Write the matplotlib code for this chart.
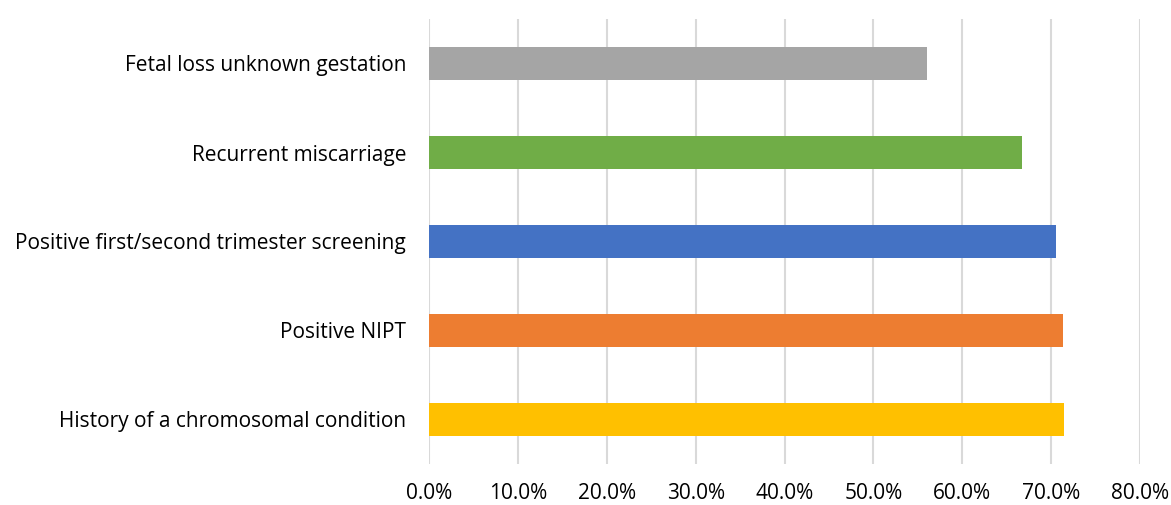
import matplotlib.pyplot as plt
from matplotlib.ticker import PercentFormatter

# data, bottom to top
categories = ["History of a chromosomal condition", "Positive NIPT",
              "Positive first/second trimester screening", "Recurrent miscarriage",
              "Fetal loss unknown gestation"]
values = [71.5, 71.3, 70.6, 66.7, 56.0]
colors = ["#FFC000", "#ED7D31", "#4472C4", "#70AD47", "#A5A5A5"]

plt.rcParams['font.family'] = ['Open Sans', 'DejaVu Sans']

fig = plt.figure(figsize=(11.71, 5.05), dpi=100)
ax = fig.add_axes([429/1171, 1 - 464/505, (1140 - 429)/1171, (464 - 19)/505])

ax.barh(range(len(categories)), values, height=0.36, color=colors, zorder=3)
ax.set_yticks(range(len(categories)))
ax.set_yticklabels(categories, fontsize=15)
ax.set_ylim(-0.5, len(categories) - 0.5)
ax.set_xlim(0, 80)
ax.set_xticks(range(0, 81, 10))
ax.xaxis.set_major_formatter(PercentFormatter(decimals=1))
ax.tick_params(axis='x', labelsize=15, length=0, pad=14)
ax.tick_params(axis='y', length=0, pad=16.5)
ax.grid(axis='x', color='#d9d9d9', linewidth=1.5, zorder=0)
for s in ax.spines.values():
    s.set_visible(False)

fig.savefig("out.png", dpi=100)
